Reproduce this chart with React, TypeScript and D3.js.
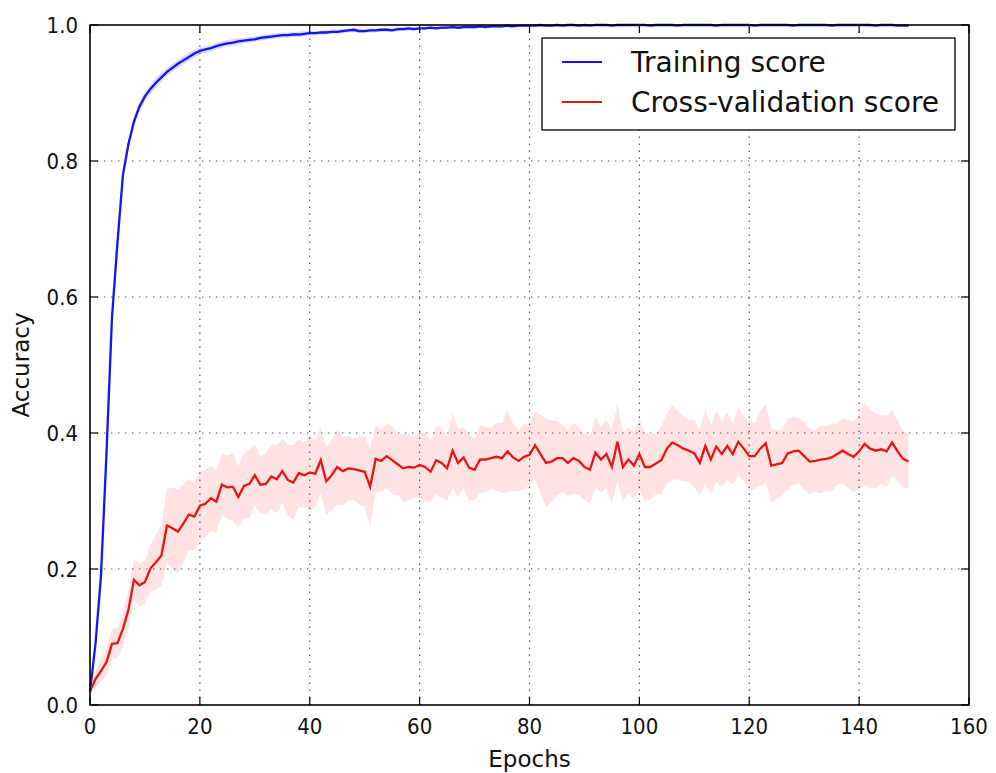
import React from "react";
import * as d3 from "d3";

// values, one per epoch (0..149)
const trainMean = [
  0.02, 0.09, 0.19, 0.37, 0.57, 0.68, 0.78, 0.825, 0.858, 0.88,
  0.895, 0.906, 0.915, 0.923, 0.931, 0.937, 0.943, 0.948, 0.953, 0.958,
  0.962, 0.964, 0.966, 0.969, 0.971, 0.973, 0.974, 0.976, 0.977, 0.978,
  0.979, 0.981, 0.982, 0.983, 0.984, 0.985, 0.985, 0.986, 0.986, 0.987,
  0.988, 0.988, 0.989, 0.989, 0.99, 0.99, 0.991, 0.992, 0.993, 0.991,
  0.991, 0.992, 0.992, 0.993, 0.993, 0.992, 0.994, 0.994, 0.995, 0.994,
  0.995, 0.995, 0.996, 0.995, 0.996, 0.996, 0.997, 0.996, 0.997, 0.997,
  0.997, 0.998, 0.997, 0.998, 0.998, 0.998, 0.999, 0.998, 0.999, 0.999,
  0.999, 0.999, 1.0, 0.999, 0.999, 1.0, 0.999, 1.0, 1.0, 0.999,
  1.0, 0.999, 1.0, 1.0, 1.0, 0.999, 1.0, 1.0, 1.0, 1.0,
  1.0, 1.0, 0.999, 1.0, 1.0, 1.0, 1.0, 0.999, 1.0, 1.0,
  1.0, 1.0, 1.0, 1.0, 0.999, 1.0, 1.0, 1.0, 1.0, 1.0,
  1.0, 0.999, 1.0, 1.0, 1.0, 1.0, 1.0, 1.0, 0.999, 1.0,
  1.0, 1.0, 1.0, 1.0, 1.0, 0.999, 1.0, 1.0, 1.0, 1.0,
  1.0, 1.0, 1.0, 0.999, 1.0, 1.0, 1.0, 0.999, 0.999, 0.999,
];
const trainStd = [
  0.005, 0.008, 0.01, 0.012, 0.012, 0.01, 0.009, 0.008, 0.008, 0.008,
  0.007, 0.007, 0.007, 0.007, 0.006, 0.006, 0.006, 0.006, 0.006, 0.006,
  0.005, 0.005, 0.005, 0.005, 0.005, 0.005, 0.005, 0.005, 0.004, 0.004,
  0.004, 0.004, 0.004, 0.004, 0.004, 0.004, 0.004, 0.004, 0.004, 0.004,
  0.003, 0.003, 0.003, 0.003, 0.003, 0.003, 0.003, 0.003, 0.003, 0.003,
  0.003, 0.003, 0.003, 0.003, 0.003, 0.003, 0.003, 0.003, 0.003, 0.003,
  0.002, 0.002, 0.002, 0.002, 0.002, 0.002, 0.002, 0.002, 0.002, 0.002,
  0.002, 0.002, 0.002, 0.002, 0.002, 0.002, 0.002, 0.002, 0.002, 0.002,
  0.002, 0.002, 0.001, 0.002, 0.002, 0.001, 0.002, 0.001, 0.001, 0.002,
  0.001, 0.001, 0.001, 0.001, 0.001, 0.001, 0.001, 0.001, 0.001, 0.001,
  0.001, 0.001, 0.001, 0.001, 0.001, 0.001, 0.001, 0.001, 0.001, 0.001,
  0.001, 0.001, 0.001, 0.001, 0.001, 0.001, 0.001, 0.001, 0.001, 0.001,
  0.001, 0.001, 0.001, 0.001, 0.001, 0.001, 0.001, 0.001, 0.001, 0.001,
  0.001, 0.001, 0.001, 0.001, 0.001, 0.001, 0.001, 0.001, 0.001, 0.001,
  0.001, 0.001, 0.001, 0.001, 0.001, 0.001, 0.001, 0.001, 0.001, 0.001,
];
const cvMean = [
  0.02, 0.038, 0.05, 0.063, 0.09, 0.091, 0.112, 0.14, 0.184, 0.176,
  0.181, 0.201, 0.21, 0.22, 0.264, 0.26, 0.255, 0.267, 0.28, 0.277,
  0.293, 0.296, 0.304, 0.299, 0.324, 0.32, 0.321, 0.306, 0.322, 0.325,
  0.338, 0.324, 0.325, 0.336, 0.332, 0.344, 0.331, 0.327, 0.341, 0.338,
  0.342, 0.34, 0.36, 0.329, 0.338, 0.35, 0.344, 0.348, 0.347, 0.345,
  0.343, 0.321, 0.362, 0.359, 0.366, 0.36, 0.354, 0.348, 0.35, 0.349,
  0.353, 0.35, 0.343, 0.36, 0.356, 0.348, 0.374, 0.356, 0.364, 0.349,
  0.346, 0.361, 0.361, 0.363, 0.365, 0.363, 0.373, 0.364, 0.359, 0.365,
  0.368, 0.382, 0.369, 0.356, 0.358, 0.363, 0.363, 0.356, 0.363, 0.359,
  0.35, 0.346, 0.371, 0.361, 0.369, 0.35, 0.387, 0.35, 0.361, 0.352,
  0.369, 0.35, 0.35, 0.355, 0.36, 0.377, 0.386, 0.382, 0.377, 0.374,
  0.37, 0.356, 0.381, 0.361, 0.38, 0.369, 0.381, 0.369, 0.387, 0.377,
  0.366, 0.366, 0.377, 0.385, 0.352, 0.354, 0.356, 0.37, 0.373, 0.374,
  0.366, 0.358, 0.359, 0.361, 0.362, 0.364, 0.369, 0.374, 0.369, 0.365,
  0.373, 0.384, 0.377, 0.374, 0.376, 0.373, 0.386, 0.373, 0.362, 0.358,
];
const cvStd = [
  0.008, 0.012, 0.016, 0.02, 0.022, 0.022, 0.025, 0.028, 0.03, 0.032,
  0.032, 0.034, 0.04, 0.045, 0.055, 0.06, 0.062, 0.058, 0.052, 0.05,
  0.05, 0.05, 0.048, 0.046, 0.045, 0.047, 0.05, 0.045, 0.048, 0.05,
  0.045, 0.042, 0.045, 0.048, 0.05, 0.047, 0.052, 0.055, 0.05, 0.048,
  0.055, 0.05, 0.048, 0.05, 0.052, 0.055, 0.05, 0.048, 0.045, 0.05,
  0.052, 0.058, 0.05, 0.045, 0.048, 0.05, 0.045, 0.05, 0.048, 0.045,
  0.048, 0.05, 0.045, 0.05, 0.052, 0.048, 0.055, 0.05, 0.045, 0.048,
  0.045, 0.05, 0.048, 0.045, 0.05, 0.052, 0.06, 0.05, 0.045, 0.048,
  0.045, 0.05, 0.058, 0.065, 0.06, 0.055, 0.05, 0.048, 0.052, 0.05,
  0.048, 0.05, 0.052, 0.048, 0.05, 0.055, 0.058, 0.05, 0.048, 0.05,
  0.052, 0.05, 0.048, 0.045, 0.05, 0.052, 0.055, 0.05, 0.048, 0.045,
  0.05, 0.048, 0.055, 0.05, 0.052, 0.048, 0.05, 0.045, 0.05, 0.048,
  0.052, 0.048, 0.055, 0.058, 0.055, 0.05, 0.048, 0.052, 0.05, 0.048,
  0.05, 0.048, 0.045, 0.05, 0.048, 0.05, 0.045, 0.048, 0.05, 0.052,
  0.055, 0.06, 0.058, 0.055, 0.05, 0.052, 0.048, 0.045, 0.042, 0.04,
];
const xTicks = [0, 20, 40, 60, 80, 100, 120, 140, 160];
const yTicks = [0.0, 0.2, 0.4, 0.6, 0.8, 1.0];
const seriesNames = ["Training score", "Cross-validation score"];

const W = 996;
const H = 773;
const m = { left: 90, right: 27, top: 25, bottom: 68 };

const App = () => {
  const x = d3.scaleLinear().domain([0, 160]).range([m.left, W - m.right]);
  const y = d3.scaleLinear().domain([0, 1]).range([H - m.bottom, m.top]);

  const line = d3
    .line<number>()
    .x((_, i) => x(i))
    .y((d) => y(d));

  const band = (mean: number[], std: number[]) =>
    d3
      .area<number>()
      .x((_, i) => x(i))
      .y0((d, i) => y(d - std[i]))
      .y1((d, i) => y(Math.min(1.0, d + std[i])))(mean) || "";

  const grid = { stroke: "#555", strokeWidth: 1.2, strokeDasharray: "1.4,5.6" };
  const tickFont = { fontFamily: "DejaVu Sans", fontSize: 22, fill: "#111" };
  const labelFont = { fontFamily: "DejaVu Sans", fontSize: 23, fill: "#111" };

  return (
    <svg
      width={W}
      height={H}
      style={{ position: "absolute", left: 0, top: 0, background: "#fff" }}
    >
      {/* grid */}
      {xTicks.slice(1, -1).map((t) => (
        <line key={"gx" + t} x1={x(t)} x2={x(t)} y1={y(0)} y2={y(1)} {...grid} />
      ))}
      {yTicks.slice(1, -1).map((t) => (
        <line key={"gy" + t} x1={x(0)} x2={x(160)} y1={y(t)} y2={y(t)} {...grid} />
      ))}

      {/* bands */}
      <path d={band(trainMean, trainStd)} fill="#0000ff" fillOpacity={0.14} />
      <path d={band(cvMean, cvStd)} fill="#ff0000" fillOpacity={0.11} />

      {/* lines */}
      <path d={line(trainMean) || ""} fill="none" stroke="#1414f5" strokeWidth={2.3} />
      <path d={line(cvMean) || ""} fill="none" stroke="#eb1414" strokeWidth={2.3} />

      {/* ticks inside, all four sides */}
      {xTicks.map((t) => (
        <g key={"tx" + t}>
          <line x1={x(t)} x2={x(t)} y1={y(0)} y2={y(0) - 8} stroke="#000" strokeWidth={1.2} />
          <line x1={x(t)} x2={x(t)} y1={y(1)} y2={y(1) + 8} stroke="#000" strokeWidth={1.2} />
          <text
            transform={`translate(${x(t)},${y(0) + 29}) scale(0.9,1)`}
            textAnchor="middle"
            {...tickFont}
          >
            {t}
          </text>
        </g>
      ))}
      {yTicks.map((t) => (
        <g key={"ty" + t}>
          <line x1={x(0)} x2={x(0) + 8} y1={y(t)} y2={y(t)} stroke="#000" strokeWidth={1.2} />
          <line x1={x(160)} x2={x(160) - 8} y1={y(t)} y2={y(t)} stroke="#000" strokeWidth={1.2} />
          <text
            transform={`translate(${x(0) - 12},${y(t) + 8}) scale(0.9,1)`}
            textAnchor="end"
            {...tickFont}
          >
            {t.toFixed(1)}
          </text>
        </g>
      ))}

      {/* frame */}
      <rect
        x={x(0)}
        y={y(1)}
        width={x(160) - x(0)}
        height={y(0) - y(1)}
        fill="none"
        stroke="#000"
        strokeWidth={1.6}
      />

      {/* axis labels */}
      <text x={(x(0) + x(160)) / 2} y={H - 6} textAnchor="middle" {...labelFont}>
        Epochs
      </text>
      <text
        transform={`translate(29,${(y(0) + y(1)) / 2}) rotate(-90)`}
        textAnchor="middle"
        {...labelFont}
      >
        Accuracy
      </text>

      {/* legend */}
      <g>
        <rect x={542} y={38} width={413} height={92} fill="#fff" stroke="#000" strokeWidth={1.3} />
        {seriesNames.map((name, i) => (
          <g key={name}>
            <line
              x1={562}
              x2={602}
              y1={62 + i * 40}
              y2={62 + i * 40}
              stroke={i === 0 ? "#1414f5" : "#eb1414"}
              strokeWidth={2}
            />
            <text x={631} y={72 + i * 40} fontFamily="DejaVu Sans" fontSize={28} fill="#111">
              {name}
            </text>
          </g>
        ))}
      </g>
    </svg>
  );
};

export default App;
